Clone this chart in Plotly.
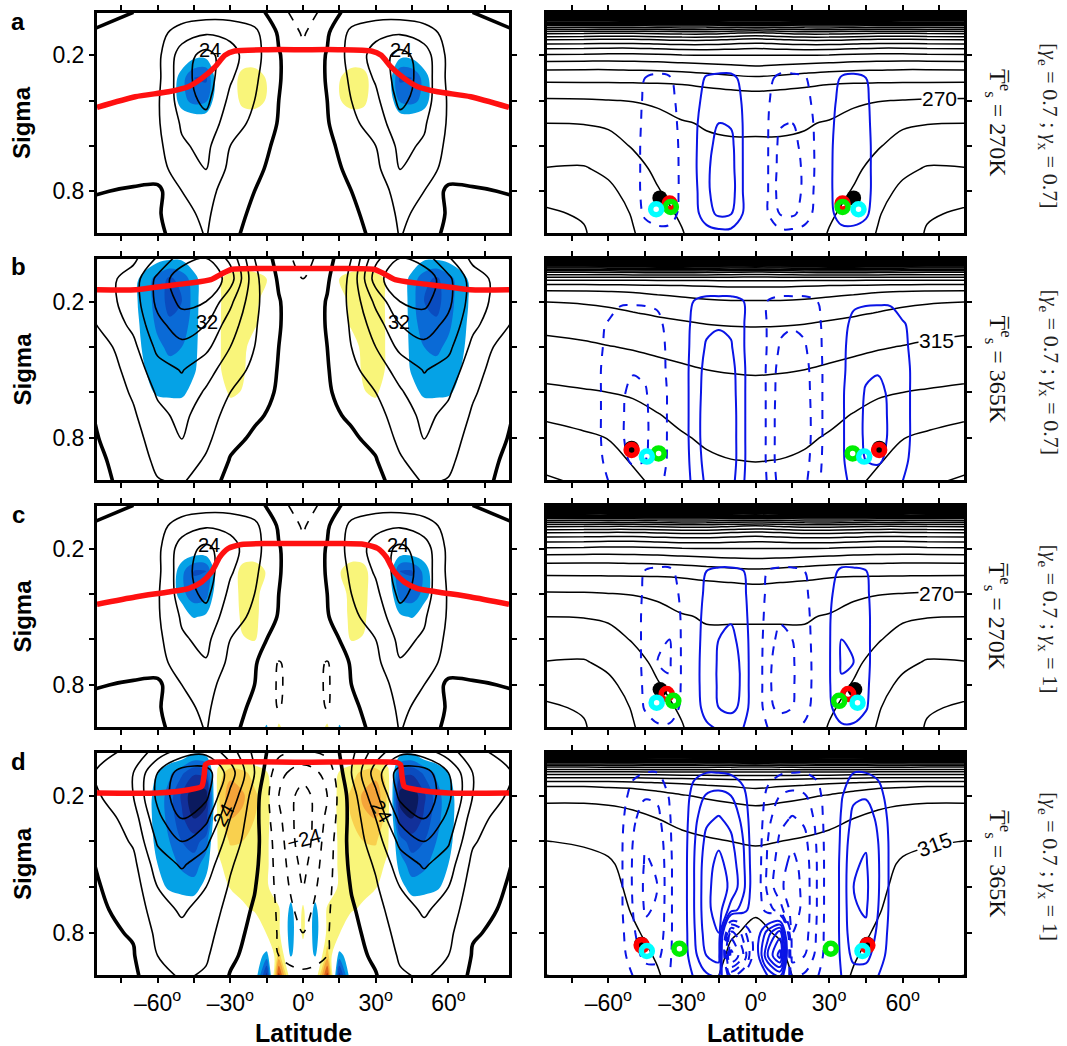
import numpy as np
import plotly.graph_objects as go

# ---------------- coordinate nodes ----------------
LAT_U = [0, 10, 20, 30, 40, 50, 60, 70, 90]
SIG_U = [0.01, 0.1, 0.2, 0.3, 0.4, 0.5, 0.6, 0.7, 0.8, 0.9, 0.99]
LAT_F = [0, 5, 10, 15, 20, 25, 30, 35, 40, 45, 50, 55, 60, 70, 90]
SIG_TH = [0.01, 0.02, 0.035, 0.05, 0.07, 0.1, 0.13, 0.16, 0.2, 0.25, 0.3, 0.4, 0.5, 0.6, 0.7, 0.8, 0.9, 0.99]

# ---------------- zonal wind (m/s), NH half, rows = SIG_U, cols = LAT_U ----------------
U_A = [
    [-14, -4, 3, 4, 4, 3, 1, 0, -1],
    [-9, -1, 10, 14, 15, 12, 5, 2, 0],
    [-6, 0.5, 11, 19, 27, 20, 6, 2, 0.5],
    [-5, 0.5, 9.5, 17, 28, 21, 6, 2, 1],
    [-4, 0, 8, 14, 26, 20, 7, 3, 1],
    [-3, -0.5, 6, 12, 21, 17, 7, 3, 1.5],
    [-3, -1, 2, 8, 18, 15, 6, 3, 1.5],
    [-3, -1.5, 1, 6, 16.2, 12, 5, 2, 1],
    [-2.5, -1.5, 0, 4, 11, 8, -2, -0.5, 0.5],
    [-2, -2, -1, 2, 9.5, 6, -1, -2, -1],
    [-1.5, -2, -1.5, 1, 8.5, 4, -2, -2.5, -1],
]
U_B = [
    [-12, -3, 8, 30, 40, 36, 25, 14, 6],
    [-8, -1, 10, 36, 48, 46, 34, 20, 8],
    [-6, 0.5, 10, 26, 40, 42, 34, 20, 8],
    [-5, 0.5, 9, 20, 32, 36, 30, 18, 5],
    [-4, 0, 8, 16, 26, 30, 26, 14, 0],
    [-3, -0.5, 6, 12, 19, 24.5, 21, 11, -0.5],
    [-3, -1, 4, 8, 15, 21, 17, 9, -1],
    [-3, -1.5, 1, 5, 12, 18, 14, 7, -1.5],
    [-2.5, -2, -1, 2, 10, 16.2, 12, 5, -2],
    [-2, -2.5, -2, -0.5, 7, 12, 10, 3, -2.5],
    [-1.5, -2, -2, -2, 3, 9, 7.5, 1.5, -2],
]
U_C = [
    [-14, -4, 3, 4, 4, 3, 1, 0, -1],
    [-9, -1, 10, 14, 15, 12, 5, 2, 0],
    [-6, 0.5, 11, 19, 26, 20, 6, 2, 0.5],
    [-5, 0.5, 9.5, 17, 28, 21, 6, 2, 1],
    [-4, 0, 8, 14, 26, 20, 7, 3, 1],
    [-3, -0.5, 6, 12, 21, 17, 7, 3, 1.5],
    [-3, -2, 2, 8, 18, 15, 6, 3, 1.5],
    [-3, -8.5, 1, 6, 15.5, 12, 5, 2, 1],
    [-3, -9, 0, 4, 11, 8, -2, -0.5, 0.5],
    [-2, -8.5, -1, 2, 9.5, 6, -1, -2, -1],
    [-1.5, -3, -1.5, 1, 8.5, 4, -2, -2.5, -1],
]
U_D = [
    [-10, -6, 6, 20, 30, 28, 20, 10, 4],
    [-20, -14, 8, 28, 44, 44, 32, 16, 6],
    [-28, -16, 4, 22, 42, 46, 34, 16, 4],
    [-30, -14, 3, 16, 34, 40, 30, 12, 0],
    [-30, -12, 3, 12, 26, 32, 25, 9, -1],
    [-27, -11, 2, 9, 20, 25, 20, 6, -1.5],
    [-24, -10, 0.5, 7, 16, 20, 16, 4, -2],
    [-20, -9, -1, 5, 13, 17, 13, 2, -2],
    [-16, -8.5, -2, 3, 11, 14, 10, 0.5, -2],
    [-12, -8, -3, 1.5, 9, 12, 8, -0.5, -2.5],
    [-6, -5, -2, -0.5, 7, 9, 5, -1.5, -2],
]

# ---------------- shaded field, NH nodes (lat, sigma, value) ----------------
SHADE_A = [
    (40, 0.2, -0.6), (40, 0.3, -3.2), (40, 0.4, -2.2),
    (45, 0.2, -0.6), (45, 0.3, -3.0), (45, 0.4, -2.4),
    (50, 0.3, -1.6), (50, 0.4, -1.6),
    (15, 0.3, 0.9), (15, 0.4, 0.9), (20, 0.3, 1.8), (20, 0.4, 1.6),
    (25, 0.3, 1.6), (25, 0.4, 1.4),
]
SHADE_B = [
    (45, 0.1, -1.5), (45, 0.2, -1.6), (45, 0.3, -1.5), (45, 0.4, -1.4), (45, 0.5, -1.2), (45, 0.6, -0.5),
    (50, 0.01, -0.8), (50, 0.1, -2.6), (50, 0.2, -3.0), (50, 0.3, -2.6), (50, 0.4, -2.0), (50, 0.5, -1.6), (50, 0.6, -1.3),
    (55, 0.01, -0.8), (55, 0.1, -3.2), (55, 0.2, -3.4), (55, 0.3, -2.8), (55, 0.4, -2.2), (55, 0.5, -1.7), (55, 0.6, -1.3),
    (60, 0.01, -0.6), (60, 0.1, -2.4), (60, 0.2, -2.4), (60, 0.3, -2.2), (60, 0.4, -1.8), (60, 0.5, -1.5), (60, 0.6, -1.2),
    (70, 0.1, -0.6), (70, 0.2, -0.7), (70, 0.3, -0.6), (70, 0.4, -0.6), (70, 0.5, -0.5),
    (15, 0.1, 1.0), (20, 0.1, 1.5), (25, 0.1, 1.6), (30, 0.1, 1.4),
    (20, 0.2, 1.6), (25, 0.2, 1.8), (30, 0.2, 1.6),
    (20, 0.3, 1.3), (25, 0.3, 1.8), (30, 0.3, 1.7),
    (25, 0.4, 1.6), (30, 0.4, 1.7), (25, 0.5, 1.3), (30, 0.5, 1.6),
    (25, 0.6, 0.9), (30, 0.6, 1.3),
    (35, 0.1, 0.8), (35, 0.2, 0.8), (35, 0.3, 0.8), (35, 0.4, 0.8), (35, 0.5, 0.8),
]
SHADE_C = [
    (40, 0.3, -3.0), (40, 0.4, -2.4), (40, 0.5, -0.8),
    (45, 0.3, -3.1), (45, 0.4, -2.6), (45, 0.5, -1.1),
    (50, 0.3, -1.7), (50, 0.4, -1.7),
    (15, 0.3, 0.9), (20, 0.3, 1.7), (20, 0.4, 1.7), (20, 0.5, 1.5), (20, 0.6, 1.1),
    (25, 0.3, 1.5), (25, 0.4, 1.5), (25, 0.5, 1.3), (25, 0.6, 0.9),
    (10, 0.99, 1.3), (15, 0.99, -1.2),
]
SHADE_D = [
    (40, 0.01, -0.5), (40, 0.1, -3.5), (40, 0.2, -5.5), (40, 0.3, -4.5), (40, 0.4, -2.5), (40, 0.5, -1.5), (40, 0.6, -0.5),
    (45, 0.01, -0.8), (45, 0.1, -3.8), (45, 0.2, -5.8), (45, 0.3, -5.0), (45, 0.4, -3.5), (45, 0.5, -2.5), (45, 0.6, -1.6),
    (50, 0.1, -2.8), (50, 0.2, -4.2), (50, 0.3, -3.8), (50, 0.4, -3.0), (50, 0.5, -2.2), (50, 0.6, -1.5),
    (55, 0.1, -1.8), (55, 0.2, -2.5), (55, 0.3, -2.4), (55, 0.4, -2.0), (55, 0.5, -1.6), (55, 0.6, -1.2),
    (60, 0.1, -1.0), (60, 0.2, -1.3), (60, 0.3, -1.3), (60, 0.4, -1.2), (60, 0.5, -1.0), (60, 0.6, -0.6),
    (15, 0.1, 1.1), (15, 0.2, 1.3), (15, 0.3, 1.3), (15, 0.4, 1.2), (15, 0.5, 1.2), (15, 0.6, 1.2), (15, 0.7, 1.1),
    (20, 0.1, 1.6), (20, 0.2, 2.2), (20, 0.3, 2.0), (20, 0.4, 1.6), (20, 0.5, 1.4), (20, 0.6, 1.3), (20, 0.7, 1.1),
    (25, 0.1, 2.3), (25, 0.2, 3.2), (25, 0.3, 2.8), (25, 0.4, 2.0), (25, 0.5, 1.5), (25, 0.6, 1.3), (25, 0.7, 0.8),
    (30, 0.1, 2.6), (30, 0.2, 3.8), (30, 0.3, 3.0), (30, 0.4, 2.1), (30, 0.5, 1.5), (30, 0.6, 1.1),
    (35, 0.1, 1.4), (35, 0.2, 1.8), (35, 0.3, 1.5), (35, 0.4, 1.2), (35, 0.5, 0.8),
    (0, 0.7, 1.3), (0, 0.8, 1.4),
    (5, 0.7, -1.5), (5, 0.8, -1.8), (5, 0.9, -1.1),
    (10, 0.7, 1.2), (10, 0.8, 1.3), (10, 0.9, 2.5), (10, 0.99, 5.5),
    (15, 0.8, 1.1), (15, 0.9, -1.5), (15, 0.99, -4.5),
]

# ---------------- tropopause (red line), SH half ----------------
RED_A_LAT = [-85, -69.2, -55.5, -47.3, -41.8, -36.3, -32.3, -28.2, -14.5, 0]
RED_A_SIG = [0.43, 0.383, 0.361, 0.339, 0.302, 0.251, 0.2, 0.181, 0.175, 0.175]
RED_B_LAT = [-85, -69, -58, -47, -38, -34, -29.6, -14.5, 0]
RED_B_SIG = [0.148, 0.148, 0.133, 0.119, 0.104, 0.081, 0.059, 0.055, 0.055]
RED_C_LAT = [-85, -69.2, -55.5, -47.3, -41.8, -37.7, -34.3, -30.9, -25.4, -14.5, 0]
RED_C_SIG = [0.445, 0.413, 0.391, 0.376, 0.347, 0.303, 0.237, 0.2, 0.182, 0.178, 0.178]
RED_D_LAT = [-85, -60, -47, -41.8, -40.8, -40.2, -38.5, 0]
RED_D_SIG = [0.188, 0.188, 0.174, 0.159, 0.11, 0.064, 0.054, 0.054]

# ---------------- potential temperature (K), rows = SIG_TH, cols = LAT_U ----------------
TH_A = [
    [760, 760, 760, 760, 760, 760, 760, 760, 760],
    [700, 700, 700, 700, 700, 700, 700, 700, 700],
    [580, 580, 582, 584, 584, 582, 580, 580, 580],
    [520, 520, 522, 524, 524, 522, 520, 520, 520],
    [460, 462, 465, 466, 465, 463, 462, 463, 464],
    [405, 408, 412, 412, 410, 408, 408, 409, 410],
    [372, 375, 378, 378, 376, 374, 374, 375, 376],
    [350, 352, 354, 354, 352, 350, 350, 351, 352],
    [330, 330, 330, 329, 327, 326, 326, 327, 328],
    [314, 312, 310, 308, 306, 305, 304, 304, 305],
    [298, 296, 293, 290, 289, 289, 289, 289, 289],
    [276, 275, 274, 273, 272, 270.5, 269.5, 268.5, 268],
    [271, 271, 270.5, 269.5, 266, 261, 257, 255.5, 255],
    [269.3, 269.3, 269, 267, 262, 256, 250, 247, 247],
    [268.5, 268.5, 268, 264, 258, 250, 243, 239, 240],
    [268, 268, 267, 261, 254, 245, 237, 230, 228],
    [267, 267, 265, 257, 250, 241, 233, 226, 223],
    [266, 266, 264, 254, 248, 239, 231, 224, 220],
]
TH_B = [
    [720, 720, 720, 720, 720, 720, 720, 720, 720],
    [640, 640, 640, 640, 640, 640, 640, 640, 640],
    [530, 532, 534, 535, 535, 534, 533, 532, 532],
    [470, 472, 474, 475, 475, 474, 473, 472, 472],
    [420, 422, 424, 425, 425, 424, 423, 422, 422],
    [380, 380, 380, 380, 380, 380, 380, 380, 380],
    [362, 362, 361, 360, 359, 358, 357, 356.5, 356],
    [352, 352, 351, 349, 347, 345, 343, 342, 341],
    [344, 344, 343, 341, 339, 336, 333, 331.5, 330],
    [337, 337, 336, 334, 332, 329.5, 327, 325, 323],
    [331, 330.7, 330, 328, 326, 324, 322, 320, 318],
    [322.5, 322.2, 321.5, 320, 318, 316, 314.5, 313, 311],
    [316.5, 316, 315, 313, 311, 309, 307, 305, 303],
    [310.5, 310, 309, 306.5, 304, 301.5, 300, 299, 297.5],
    [306.5, 306, 305, 302.5, 299.5, 296, 292, 289.5, 286],
    [303, 302.7, 301.5, 299, 295, 290, 285.3, 283, 280],
    [300.2, 299.8, 298.5, 295.5, 291, 286, 281, 278, 273],
    [297, 296.5, 295, 292, 287.5, 282.5, 276, 272, 267],
]
TH_C = [
    [760, 760, 760, 760, 760, 760, 760, 760, 760],
    [700, 700, 700, 700, 700, 700, 700, 700, 700],
    [580, 580, 582, 584, 584, 582, 580, 580, 580],
    [520, 520, 522, 524, 524, 522, 520, 520, 520],
    [460, 462, 465, 466, 465, 463, 462, 463, 464],
    [405, 408, 412, 412, 410, 408, 408, 409, 410],
    [372, 375, 378, 378, 376, 374, 374, 375, 376],
    [350, 352, 354, 354, 352, 350, 350, 351, 352],
    [330, 330, 330, 329, 327, 326, 326, 327, 328],
    [313, 312, 310, 308, 306, 305, 304, 304, 305],
    [297, 295, 293, 290, 289, 289, 289, 289, 289],
    [276, 275, 274, 273, 272, 270.5, 269.5, 268.5, 268],
    [270.5, 270.5, 270.5, 269.5, 266, 261, 257, 255.5, 255],
    [269, 269, 269, 267, 262, 256, 250, 247, 247],
    [268.5, 268.5, 268, 264, 258, 250, 243, 239, 240],
    [268, 268, 267, 261, 254, 245, 237, 230, 228],
    [267, 267, 265, 257, 250, 241, 233, 226, 223],
    [266, 266, 264, 254, 248, 239, 231, 224, 220],
]
TH_D = [
    [720, 720, 720, 720, 720, 720, 720, 720, 720],
    [660, 660, 660, 660, 660, 660, 660, 660, 660],
    [550, 552, 554, 555, 555, 554, 553, 552, 552],
    [490, 492, 494, 495, 495, 494, 493, 492, 492],
    [440, 442, 444, 445, 445, 444, 443, 442, 442],
    [400, 400, 400, 400, 399, 398, 398, 398, 398],
    [375, 374, 372, 370, 368, 366, 365, 365, 365],
    [362, 360, 357, 353, 350, 347, 346, 345, 345],
    [352, 350, 347, 344, 340, 337, 335, 334, 334],
    [344, 342, 340, 337, 334, 331, 329, 328, 328],
    [338, 336, 334, 332, 330, 327, 324, 322, 322],
    [330.5, 330, 329, 328, 326, 323, 318, 316, 314.5],
    [328, 327.5, 327, 326, 324, 319, 313.5, 312, 311],
    [328, 327.5, 326, 325, 322, 317.5, 311.5, 310, 309],
    [329.5, 329, 326, 324, 320.5, 315.8, 310, 308.5, 307.5],
    [331, 329.5, 326, 323, 318.5, 313.5, 308.5, 306.5, 305.5],
    [333, 331, 326.5, 322, 316, 311, 306.5, 304, 302.5],
    [336, 333, 327, 321, 314, 309, 305, 301, 299.5],
]

# ---------------- mass streamfunction, NH columns (lat -> values at SIG_U) ----------------
PSI_A = {
    5: [0, 0, 0, -0.8, -0.9, -0.95, -0.95, -0.95, -0.95, -0.95, -0.3],
    10: [0, 0, -0.2, -1.2, -1.5, -1.9, -2.3, -2.4, -2.5, -2.05, -0.6],
    15: [0, 0, -0.2, -1.2, -1.6, -2.0, -2.3, -2.5, -2.5, -2.2, -0.6],
    20: [0, 0, -0.1, -1.1, -1.3, -1.5, -1.7, -1.8, -1.8, -1.6, -0.5],
    25: [0, 0, 0, -0.5, -0.7, -0.8, -0.8, -0.8, -0.7, -0.6, -0.2],
    30: [0, 0, 0, 0.3, 0.5, 0.6, 0.7, 0.7, 0.7, 0.6, 0.2],
    35: [0, 0, 0.1, 1.1, 1.4, 1.6, 1.7, 1.8, 1.8, 1.6, 0.5],
    40: [0, 0, 0.1, 1.2, 1.5, 1.7, 1.8, 1.9, 1.9, 1.7, 0.5],
    45: [0, 0, 0, 1.0, 1.2, 1.3, 1.4, 1.4, 1.4, 1.2, 0.4],
    50: [0, 0, 0, 0.3, 0.4, 0.4, 0.4, 0.4, 0.4, 0.3, 0.1],
}
PSI_B = {
    5: [0, 0, -1.05, -1.1, -1.1, -1.2, -1.2, -1.2, -1.2, -1.2, -1.1],
    10: [0, 0, -1.3, -1.8, -2.1, -2.4, -2.5, -2.6, -2.6, -2.6, -2.4],
    15: [0, 0, -1.3, -1.9, -2.3, -2.6, -2.7, -2.8, -2.8, -2.8, -2.5],
    20: [0, 0, -1.3, -1.8, -2.1, -2.3, -2.4, -2.5, -2.5, -2.4, -2.2],
    25: [0, 0, -1.05, -1.3, -1.4, -1.5, -1.5, -1.5, -1.5, -1.4, -1.3],
    30: [0, 0, -0.3, -0.4, -0.4, -0.4, -0.4, -0.4, -0.4, -0.4, -0.3],
    35: [0, 0, 0.3, 0.6, 0.7, 0.7, 0.8, 0.8, 0.8, 0.8, 0.7],
    40: [0, 0, 0.8, 1.3, 1.5, 1.6, 1.7, 1.7, 1.7, 1.6, 1.3],
    45: [0, 0, 0.9, 1.4, 1.7, 1.9, 2.05, 2.1, 2.1, 2.0, 1.6],
    50: [0, 0, 0.9, 1.5, 1.8, 1.95, 2.15, 2.25, 2.25, 2.1, 1.6],
    55: [0, 0, 0.9, 1.4, 1.6, 1.8, 1.9, 1.9, 1.9, 1.8, 1.4],
    60: [0, 0, 0.5, 1.1, 1.2, 1.3, 1.3, 1.3, 1.3, 1.2, 1.0],
    70: [0, 0, 0.1, 0.3, 0.3, 0.3, 0.3, 0.3, 0.3, 0.3, 0.2],
}
PSI_C = {
    5: [0, 0, 0, -1.05, -1.3, -1.5, -1.7, -1.8, -1.8, -1.7, -1.0],
    10: [0, 0, 0, -1.2, -1.6, -1.9, -2.2, -2.4, -2.5, -2.3, -1.2],
    15: [0, 0, 0, -1.2, -1.5, -1.8, -2.0, -2.1, -2.1, -2.0, -1.1],
    20: [0, 0, 0, -1.0, -1.2, -1.3, -1.4, -1.5, -1.5, -1.4, -0.8],
    25: [0, 0, 0, -0.3, -0.5, -0.6, -0.6, -0.6, -0.6, -0.5, -0.3],
    30: [0, 0, 0, 0.6, 0.8, 0.9, 0.9, 0.9, 0.9, 0.8, 0.4],
    35: [0, 0, 0, 1.2, 1.5, 1.7, 2.0, 2.1, 1.9, 1.6, 0.8],
    40: [0, 0, 0, 1.2, 1.5, 1.7, 1.9, 2.0, 1.8, 1.6, 0.8],
    45: [0, 0, 0, 1.05, 1.2, 1.3, 1.3, 1.3, 1.2, 1.1, 0.5],
    50: [0, 0, 0, 0.3, 0.4, 0.4, 0.4, 0.4, 0.4, 0.3, 0.1],
}
PSI_D = {
    5: [0, -0.6, -1.3, -1.7, -2.0, -2.2, -2.3, -1.5, 2.5, 4.0, 1.0],
    10: [0, -0.9, -2.0, -2.7, -3.2, -3.6, -3.8, -2.5, 4.5, 6.5, 2.0],
    15: [0, -1.0, -2.3, -3.1, -3.8, -4.3, -4.5, -4.5, -4.0, -3.5, -2.0],
    20: [0, -1.0, -2.1, -2.8, -3.3, -3.6, -3.7, -3.7, -3.5, -3.0, -1.8],
    25: [0, -0.8, -1.4, -1.7, -1.9, -2.0, -2.0, -2.0, -1.9, -1.7, -1.1],
    30: [0, -0.2, -0.3, -0.3, -0.3, -0.3, -0.3, -0.3, -0.3, -0.3, -0.2],
    35: [0, 0.6, 0.9, 1.1, 1.2, 1.3, 1.3, 1.3, 1.3, 1.2, 1.0],
    40: [0, 1.0, 1.8, 2.3, 2.7, 2.9, 3.0, 2.9, 2.7, 2.3, 1.5],
    45: [0, 1.0, 1.9, 2.5, 2.9, 3.1, 3.2, 3.1, 2.8, 2.3, 1.5],
    50: [0, 0.8, 1.4, 1.8, 2.0, 2.1, 2.1, 2.0, 1.8, 1.5, 1.0],
    55: [0, 0.3, 0.5, 0.7, 0.8, 0.8, 0.8, 0.8, 0.7, 0.6, 0.4],
}

# ---------------- markers (lat, sigma) ----------------
MARK_A = {'black': ([-39, 40], [0.83, 0.83]), 'red': ([-35, 35.5], [0.855, 0.855]),
          'lime': ([-34.5, 35.5], [0.87, 0.87]), 'cyan': ([-40.5, 42], [0.88, 0.88])}
MARK_B = {'black': ([-50.5, 50.5], [0.845, 0.845]), 'red': ([-50.5, 50.4], [0.853, 0.853]),
          'lime': ([-39.5, 39.6], [0.868, 0.868]), 'cyan': ([-44.3, 44.3], [0.882, 0.882])}
MARK_C = {'black': ([-38.9, 40.5], [0.82, 0.82]), 'red': ([-36.2, 37.8], [0.84, 0.84]),
          'lime': ([-33.5, 34.1], [0.87, 0.87]), 'cyan': ([-40.3, 41.6], [0.878, 0.878])}
MARK_D = {'black': ([-46.5, 45.6], [0.85, 0.85]), 'red': ([-46.4, 45.6], [0.855, 0.855]),
          'lime': ([-31, 30.7], [0.87, 0.87]), 'cyan': ([-44.3, 43.6], [0.88, 0.88])}

# ---------------- labels ----------------
ULAB_A = [(-38.4, 0.178, '24', 0), (40.4, 0.178, '24', 0)]
ULAB_B = [(-39.7, 0.289, '32', 0), (39.7, 0.289, '32', 0)]
ULAB_C = [(-38.8, 0.185, '24', 0), (39.3, 0.185, '24', 0)]
ULAB_D = [(-32.9, 0.283, '24', -60), (32.2, 0.269, '24', 60), (0.5, 0.39, '\u221224', -15)]
THLAB = [(74.9, 0.39, '270', 0), (73.6, 0.37, '315', 0), (73.6, 0.397, '270', 0), (73.0, 0.413, '315', -20)]
TS_TEXT = ['270K', '365K', '270K', '365K']
GX_TEXT = ['0.7', '0.7', '1', '1']
LETTERS = ['a', 'b', 'c', 'd']

# ---------------- helpers ----------------
def mirror(lats, grid, sign=1.0):
    g = np.array(grid, dtype=float)
    x = [-l for l in lats[:0:-1]] + list(lats)
    left = sign * g[:, :0:-1]
    return x, np.hstack([left, g])


def sparse_grid(entries):
    g = np.zeros((len(SIG_U), len(LAT_F)))
    for lat, s, v in entries:
        g[SIG_U.index(s), LAT_F.index(lat)] = v
    return g


def column_grid(cols):
    g = np.zeros((len(SIG_U), len(LAT_F)))
    for lat, vals in cols.items():
        g[:, LAT_F.index(lat)] = vals
    return g


BAND_COLORS = ['#0b1a5e', '#12309a', '#0a4cbf', '#0a6ad6', '#05a2e6', '#ffffff',
               '#ffffff', '#f9f57a', '#f9d04e', '#f4a43a', '#de641d', '#a7260a']
SHADE_CS = [[k / 11, c] for k, c in enumerate(BAND_COLORS)]

W, H = 1067, 1046
XPX = [(97, 509), (547, 964)]
YPX = [(13, 233), (259, 480), (506, 727), (753, 975)]

panels = [
    dict(u=U_A, sh=SHADE_A, rl=(RED_A_LAT, RED_A_SIG), th=TH_A, psi=PSI_A, mk=MARK_A, ul=ULAB_A),
    dict(u=U_B, sh=SHADE_B, rl=(RED_B_LAT, RED_B_SIG), th=TH_B, psi=PSI_B, mk=MARK_B, ul=ULAB_B),
    dict(u=U_C, sh=SHADE_C, rl=(RED_C_LAT, RED_C_SIG), th=TH_C, psi=PSI_C, mk=MARK_C, ul=ULAB_C),
    dict(u=U_D, sh=SHADE_D, rl=(RED_D_LAT, RED_D_SIG), th=TH_D, psi=PSI_D, mk=MARK_D, ul=ULAB_D),
]

fig = go.Figure()
annotations = []
SANS = 'Liberation Sans, Arial, sans-serif'
SERIF = 'Liberation Serif, DejaVu Serif, serif'


def ax_names(i):
    return ('x' if i == 1 else f'x{i}'), ('y' if i == 1 else f'y{i}')


def line_contour(x, y, z, start, end, size, color, width, dash, xa, ya):
    return go.Contour(x=x, y=y, z=z, xaxis=xa, yaxis=ya, autocontour=False,
                      contours=dict(start=start, end=end, size=size, coloring='none'),
                      line=dict(color=color, width=width, dash=dash, smoothing=1.0),
                      showscale=False, hoverinfo='skip')


for r, p in enumerate(panels):
    # ---- left: zonal wind + shading + tropopause
    xa, ya = ax_names(2 * r + 1)
    xs, zs = mirror(LAT_F, sparse_grid(p['sh']))
    fig.add_trace(go.Contour(x=xs, y=SIG_U, z=zs, xaxis=xa, yaxis=ya, autocontour=False,
                             contours=dict(start=-5, end=5, size=1, coloring='fill'),
                             colorscale=SHADE_CS, line=dict(width=0, smoothing=1.0),
                             showscale=False, hoverinfo='skip'))
    xu, zu = mirror(LAT_U, p['u'])
    fig.add_trace(line_contour(xu, SIG_U, zu, 8, 64, 8, 'black', 1.6, 'solid', xa, ya))
    fig.add_trace(line_contour(xu, SIG_U, zu, -64, -8, 8, 'black', 1.6, 'dash', xa, ya))
    fig.add_trace(line_contour(xu, SIG_U, zu, 0, 0, 1, 'black', 3.6, 'solid', xa, ya))
    rl_lat, rl_sig = p['rl']
    full_lat = list(rl_lat) + [-v for v in rl_lat[-2::-1]]
    full_sig = list(rl_sig) + list(rl_sig[-2::-1])
    fig.add_trace(go.Scatter(x=full_lat, y=full_sig, mode='lines', xaxis=xa, yaxis=ya,
                             line=dict(color='#ff1010', width=5.5, shape='spline', smoothing=0.6),
                             hoverinfo='skip', showlegend=False))
    for lx, ly, txt, ang in p['ul']:
        annotations.append(dict(x=lx, y=ly, xref=xa, yref=ya, text=txt, showarrow=False,
                                xanchor='center', yanchor='middle', textangle=ang,
                                font=dict(family=SANS, size=20, color='black')))

    # ---- right: potential temperature + streamfunction + markers
    xa, ya = ax_names(2 * r + 2)
    xt, zt = mirror(LAT_U, p['th'])
    fig.add_trace(line_contour(xt, SIG_TH, zt, 195, 900, 15, 'black', 1.5, 'solid', xa, ya))
    xp, zp = mirror(LAT_F, column_grid(p['psi']), sign=-1.0)
    fig.add_trace(line_contour(xp, SIG_U, zp, 1, 12, 1, '#0a14e6', 2.0, 'solid', xa, ya))
    fig.add_trace(line_contour(xp, SIG_U, zp, -12, -1, 1, '#0a14e6', 2.0, 'dash', xa, ya))
    for col in ['black', 'red', 'lime', 'cyan']:
        mx, my = p['mk'][col]
        if col == 'black':
            mk = dict(symbol='circle', size=15, color='black')
        else:
            mk = dict(symbol='circle-open', size=11, color={'red': '#ff0000', 'lime': '#00ee00', 'cyan': '#00ffff'}[col],
                      line=dict(width=5.5))
        fig.add_trace(go.Scatter(x=mx, y=my, mode='markers', marker=mk, xaxis=xa, yaxis=ya,
                                 hoverinfo='skip', showlegend=False))
    tx, ty, ttxt, tang = THLAB[r]
    annotations.append(dict(x=tx, y=ty, xref=xa, yref=ya, text=ttxt, showarrow=False, textangle=tang,
                            xanchor='center', yanchor='middle',
                            font=dict(family=SANS, size=21, color='black'),
                            bgcolor='white', borderpad=0))

layout = dict(width=W, height=H, margin=dict(l=0, r=0, t=0, b=0), paper_bgcolor='white',
              plot_bgcolor='white', showlegend=False)
common = dict(showline=True, linecolor='black', linewidth=3, mirror='allticks', ticks='outside',
              ticklen=5, tickwidth=1.5, tickcolor='black', showgrid=False, zeroline=False,
              tickfont=dict(family=SANS, size=23, color='black'))
XT = [-75, -60, -45, -30, -15, 0, 15, 30, 45, 60, 75]
XTT = ['', '\u201360<sup>o</sup>', '', '\u201330<sup>o</sup>', '', '0<sup>o</sup>', '', '30<sup>o</sup>', '', '60<sup>o</sup>', '']
for r in range(4):
    for c in range(2):
        i = 2 * r + c + 1
        xk = 'xaxis' if i == 1 else f'xaxis{i}'
        yk = 'yaxis' if i == 1 else f'yaxis{i}'
        xa, ya = ax_names(i)
        layout[xk] = dict(domain=[XPX[c][0] / W, XPX[c][1] / W], anchor=ya, range=[-85, 85],
                          tickvals=XT, ticktext=(XTT if r == 3 else [''] * len(XT)), **common)
        layout[yk] = dict(domain=[1 - YPX[r][1] / H, 1 - YPX[r][0] / H], anchor=xa, range=[0.985, 0.013],
                          tickvals=[0.2, 0.4, 0.6, 0.8],
                          ticktext=(['0.2', '', '', '0.8'] if c == 0 else [''] * 4), **common)

for r in range(4):
    top, bot = YPX[r]
    yc = 1 - (top + bot) / 2 / H
    annotations.append(dict(x=22 / W, y=yc, xref='paper', yref='paper', text='<b>Sigma</b>', showarrow=False,
                            xanchor='center', yanchor='middle', textangle=-90,
                            font=dict(family=SANS, size=24, color='black')))
    annotations.append(dict(x=18 / W, y=1 - (top + 8) / H, xref='paper', yref='paper', text=f'<b>{LETTERS[r]}</b>',
                            showarrow=False, xanchor='center', yanchor='middle',
                            font=dict(family=SANS, size=24, color='black')))
    annotations.append(dict(x=998 / W, y=yc, xref='paper', yref='paper',
                            text=f'T\u0305<sup>e</sup><sub>s</sub> = {TS_TEXT[r]}', showarrow=False, textangle=90,
                            xanchor='center', yanchor='middle',
                            font=dict(family=SERIF, size=24, color='#111')))
    annotations.append(dict(x=1049 / W, y=yc - 2 / H, xref='paper', yref='paper',
                            text=f'[<i>\u03b3</i><sub>e</sub> = 0.7 ; <i>\u03b3</i><sub>x</sub> = {GX_TEXT[r]}]',
                            showarrow=False, textangle=90, xanchor='center', yanchor='middle',
                            font=dict(family=SERIF, size=22, color='#222')))
for c in range(2):
    annotations.append(dict(x=(XPX[c][0] + XPX[c][1]) / 2 / W, y=1 - 1033 / H, xref='paper', yref='paper',
                            text='<b>Latitude</b>', showarrow=False, xanchor='center', yanchor='middle',
                            font=dict(family=SANS, size=25, color='black')))

layout['annotations'] = annotations
fig.update_layout(**layout)
fig.write_html('out.html', config={'displayModeBar': False},
               post_script="document.body.style.margin='0px';document.body.style.padding='0px';")
